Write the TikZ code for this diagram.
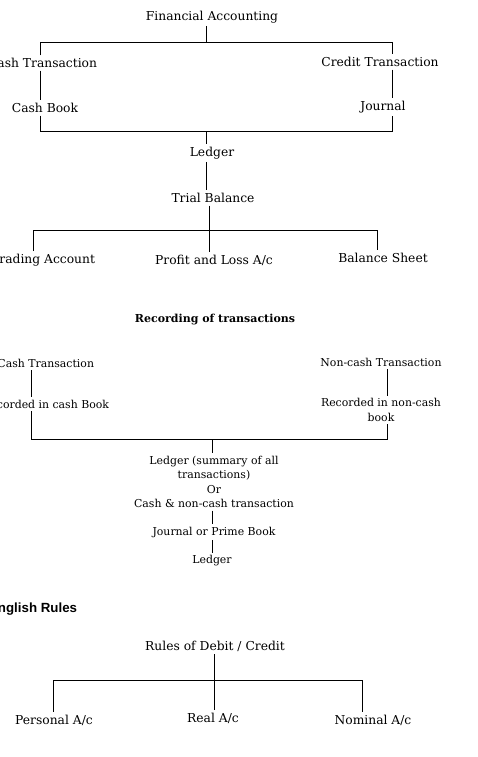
\documentclass[tikz,border=0pt]{standalone}
\usepackage{fontspec}
\setmainfont{DejaVu Serif}
\newfontfamily\headsans{Liberation Sans}
\usepackage{tikz}
\usetikzlibrary{arrows.meta,calc}

\begin{document}
\begin{tikzpicture}[x=1pt,y=-1pt,>=Latex,line width=0.9pt,
  every node/.style={inner sep=2.5pt,font=\fontsize{12.3}{14.3}\selectfont},
  head/.style={font=\fontsize{11}{13}\selectfont\bfseries},
  sanshead/.style={font=\fontsize{13.3}{15}\selectfont\headsans\bfseries}]
  \useasboundingbox (0,0) rectangle (478,757);

  \node (fa) at (212,17) {Financial Accounting};
  \coordinate (t1) at (206,42);
  \coordinate (t1l) at (40,42);
  \coordinate (t1r) at (392,42);
  \node[anchor=east] (cash) at (100,63) {Cash Transaction};
  \node (cbook) at (45,108) {Cash Book};
  \node (credit) at (380,62) {Credit Transaction};
  \node (jnl) at (383,107) {Journal};
  \coordinate (b1l) at (40,131);
  \coordinate (b1) at (206,131);
  \coordinate (b1r) at (392,131);
  \node (led) at (212,153) {Ledger};
  \node (tb) at (213,198) {Trial Balance};
  \coordinate (t2) at (209,230);
  \coordinate (t2l) at (33,230);
  \coordinate (t2r) at (377,230);
  \node[anchor=east] (trading) at (98,260) {Trading Account};
  \node (pl) at (214,260) {Profit and Loss A/c};
  \node (bs) at (383,258) {Balance Sheet};

  \draw (fa.south -| t1) -- (t1);
  \draw (cash.north -| t1l) -- (t1l) -- (t1r) -- (credit.north -| t1r);
  \draw (cash.south -| t1l) -- (cbook.north -| t1l);
  \draw (credit.south -| t1r) -- (jnl.north -| t1r);
  \draw (cbook.south -| b1l) -- (b1l) -- (b1r) -- (jnl.south -| b1r);
  \draw (b1) -- (led.north -| b1);
  \draw (led.south -| b1) -- (tb.north -| b1);
  \draw (tb.south -| t2) -- (pl.north -| t2);
  \draw (trading.north -| t2l) -- (t2l) -- (t2r) -- (bs.north -| t2r);

  \begin{scope}[every node/.append style={font=\fontsize{10.9}{14.3}\selectfont}]
    \node[head] (rec) at (215,320) {Recording of transactions};
    \node[anchor=east] (cash2) at (97,363) {Cash Transaction};
    \node[anchor=east] (rcash) at (112,404) {Recorded in cash Book};
    \node (ncash) at (381,362) {Non-cash Transaction};
    \node[align=center] (rncash) at (381,410) {Recorded in non-cash\\book};
    \coordinate (b2l) at (31,439);
    \coordinate (b2) at (212,439);
    \coordinate (b2r) at (387,439);
    \node[align=center] (led2) at (214,482) {Ledger (summary of all\\transactions)\\Or\\Cash \& non-cash transaction};
    \node (jpb) at (214,532) {Journal or Prime Book};
    \node (led3) at (212,561) {Ledger};

    \draw (cash2.south -| b2l) -- (rcash.north -| b2l);
    \draw (ncash.south -| b2r) -- (rncash.north -| b2r);
    \draw (rcash.south -| b2l) -- (b2l) -- (b2r) -- (rncash.south -| b2r);
    \draw (b2) -- (led2.north -| b2);
    \draw (led2.south -| b2) -- (jpb.north -| b2);
    \draw (jpb.south -| b2) -- (led3.north -| b2);
  \end{scope}

  \node[sanshead,anchor=east] (eng) at (80,609) {English Rules};
  \node (rules) at (215,646) {Rules of Debit / Credit};
  \coordinate (t3) at (214,680);
  \coordinate (t3l) at (53,680);
  \coordinate (t3r) at (362,680);
  \node (pers) at (54,720) {Personal A/c};
  \node (real) at (213,718) {Real A/c};
  \node (nom) at (373,720) {Nominal A/c};

  \draw (rules.south -| t3) -- (real.north -| t3);
  \draw (pers.north -| t3l) -- (t3l) -- (t3r) -- (nom.north -| t3r);
\end{tikzpicture}
\end{document}
